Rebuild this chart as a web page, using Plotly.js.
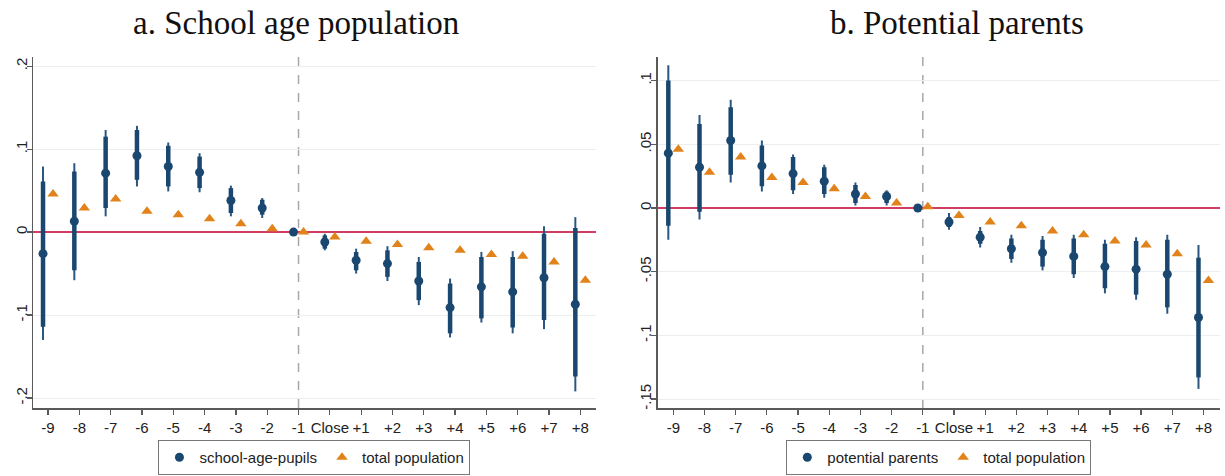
<!DOCTYPE html>
<html>
<head>
<meta charset="utf-8">
<script src="https://cdn.plot.ly/plotly-3.0.1.min.js"></script>
<style>html,body{margin:0;padding:0;background:#fff;}#chart{width:1225px;height:476px;}</style>
</head>
<body>
<div id="chart"></div>
<script>
// Event-time categories
const labels = ['-9','-8','-7','-6','-5','-4','-3','-2','-1','Close','+1','+2','+3','+4','+5','+6','+7','+8'];

// Panel a: school-age pupils (coefficient, inner CI, outer CI) and total population
const pupilsCoef = [-0.026, 0.013, 0.071, 0.092, 0.079, 0.072, 0.038, 0.029, 0, -0.012, -0.034, -0.038, -0.059, -0.091, -0.066, -0.072, -0.055, -0.087];
const pupilsLoIn = [-0.114, -0.046, 0.029, 0.063, 0.055, 0.053, 0.023, 0.021, 0, -0.020, -0.046, -0.054, -0.082, -0.122, -0.104, -0.115, -0.106, -0.174];
const pupilsHiIn = [0.061, 0.073, 0.115, 0.123, 0.104, 0.091, 0.053, 0.039, 0, -0.004, -0.024, -0.022, -0.036, -0.062, -0.030, -0.030, -0.002, 0.005];
const pupilsLoOut = [-0.130, -0.058, 0.019, 0.055, 0.049, 0.048, 0.019, 0.017, 0, -0.022, -0.050, -0.059, -0.088, -0.127, -0.109, -0.122, -0.117, -0.192];
const pupilsHiOut = [0.079, 0.083, 0.123, 0.128, 0.108, 0.095, 0.056, 0.041, 0, -0.002, -0.020, -0.017, -0.030, -0.056, -0.024, -0.023, 0.007, 0.018];
const popA = [0.046, 0.029, 0.040, 0.025, 0.021, 0.016, 0.010, 0.004, 0.000, -0.006, -0.011, -0.015, -0.019, -0.022, -0.027, -0.029, -0.036, -0.058];

// Panel b: potential parents and total population
const parentsCoef = [0.043, 0.032, 0.053, 0.033, 0.027, 0.021, 0.011, 0.009, 0, -0.011, -0.023, -0.032, -0.035, -0.038, -0.046, -0.048, -0.052, -0.086];
const parentsLoIn = [-0.014, -0.003, 0.026, 0.017, 0.014, 0.011, 0.004, 0.004, 0, -0.015, -0.028, -0.040, -0.046, -0.052, -0.063, -0.068, -0.078, -0.133];
const parentsHiIn = [0.100, 0.066, 0.079, 0.049, 0.040, 0.032, 0.018, 0.013, 0, -0.007, -0.018, -0.024, -0.025, -0.024, -0.028, -0.026, -0.025, -0.039];
const parentsLoOut = [-0.025, -0.009, 0.020, 0.013, 0.011, 0.008, 0.002, 0.002, 0, -0.017, -0.031, -0.043, -0.049, -0.055, -0.067, -0.072, -0.083, -0.142];
const parentsHiOut = [0.112, 0.073, 0.085, 0.053, 0.042, 0.034, 0.020, 0.014, 0, -0.004, -0.015, -0.021, -0.022, -0.021, -0.025, -0.023, -0.021, -0.029];
const popB = [0.046, 0.028, 0.040, 0.024, 0.020, 0.015, 0.009, 0.004, 0.001, -0.006, -0.011, -0.014, -0.018, -0.021, -0.026, -0.029, -0.036, -0.057];

// Tick labels
const yTickValsA = [-0.2, -0.1, 0, 0.1, 0.2];
const yTickTextA = ['-.2', '-.1', '0', '.1', '.2'];
const yTickValsB = [-0.15, -0.1, -0.05, 0, 0.05, 0.1];
const yTickTextB = ['-.15', '-.1', '-.05', '0', '.05', '.1'];
const panelTitles = ['a. School age population', 'b. Potential parents'];
const seriesNames = [['school-age-pupils', 'total population'], ['potential parents', 'total population']];

const NAVY = '#1a476f';
const ORANGE = '#e1821a';
const idx = labels.map((_, i) => i);
const OFF = 0.16;

function segs(lo, hi) {
  const xs = [], ys = [];
  idx.forEach(i => { xs.push(i - OFF, i - OFF, null); ys.push(lo[i], hi[i], null); });
  return {xs, ys};
}

function panel(coef, loIn, hiIn, loOut, hiOut, pop, xa, ya, leg, names) {
  const o = segs(loOut, hiOut), n = segs(loIn, hiIn);
  return [
    {x: o.xs, y: o.ys, xaxis: xa, yaxis: ya, mode: 'lines', line: {color: '#2a5680', width: 2}, showlegend: false, hoverinfo: 'skip'},
    {x: n.xs, y: n.ys, xaxis: xa, yaxis: ya, mode: 'lines', line: {color: NAVY, width: 4.5}, showlegend: false, hoverinfo: 'skip'},
    {x: idx.map(i => i - OFF), y: coef, xaxis: xa, yaxis: ya, mode: 'markers', name: names[0], legend: leg,
     marker: {symbol: 'circle', size: 9, color: NAVY}},
    {x: idx.map(i => i + OFF), y: pop, xaxis: xa, yaxis: ya, mode: 'markers', name: names[1], legend: leg,
     marker: {symbol: 'triangle-up', size: 10, color: ORANGE}}
  ];
}

const data = [].concat(
  panel(pupilsCoef, pupilsLoIn, pupilsHiIn, pupilsLoOut, pupilsHiOut, popA, 'x', 'y', 'legend', seriesNames[0]),
  panel(parentsCoef, parentsLoIn, parentsHiIn, parentsLoOut, parentsHiOut, popB, 'x2', 'y2', 'legend2', seriesNames[1])
);

const tickFont = {family: 'Liberation Sans, Arial, sans-serif', size: 15, color: '#222'};
function xAxis(domain, range, anchor) {
  return {domain, range, anchor, tickmode: 'array', tickvals: idx, ticktext: labels,
    showline: true, linecolor: '#5a5a5a', linewidth: 1.5, ticks: 'outside', ticklen: 5, tickcolor: '#5a5a5a',
    tickwidth: 1.2, showgrid: false, zeroline: false, tickfont: tickFont, ticklabelstandoff: 0, fixedrange: true,
    automargin: false};
}
function yAxis(range, vals, text, anchor) {
  return {domain: [0, 1], range, anchor, tickmode: 'array', tickvals: vals, ticktext: text, tickangle: -90,
    showline: true, linecolor: '#5a5a5a', linewidth: 1.5, ticks: 'outside', ticklen: 5, tickcolor: '#5a5a5a',
    tickwidth: 1.2, showgrid: true, gridcolor: '#eceff1', gridwidth: 1,
    zeroline: true, zerolinecolor: '#d23c64', zerolinewidth: 2,
    tickfont: tickFont, ticklabelstandoff: -6, fixedrange: true, automargin: false};
}

const legendBase = {orientation: 'h', xanchor: 'center', yanchor: 'bottom', yref: 'container', y: 0.002,
  bordercolor: '#777', borderwidth: 1, bgcolor: '#fff',
  font: {family: 'Liberation Sans, Arial, sans-serif', size: 15, color: '#222'}, itemwidth: 30, tracegroupgap: 0};

const layout = {
  width: 1225, height: 476,
  margin: {l: 33, r: 5, t: 57, b: 68},
  paper_bgcolor: '#fff', plot_bgcolor: '#fff',
  xaxis: xAxis([0, 0.4743], [-0.48, 17.5], 'y'),
  yaxis: yAxis([-0.212, 0.211], yTickValsA, yTickTextA, 'x'),
  xaxis2: xAxis([0.5263, 1], [-0.5, 17.53], 'y2'),
  yaxis2: yAxis([-0.157, 0.1185], yTickValsB, yTickTextB, 'x2'),
  legend: Object.assign({}, legendBase, {x: 0.2371}),
  legend2: Object.assign({}, legendBase, {x: 0.7631}),
  shapes: [
    {type: 'line', xref: 'x', yref: 'y domain', x0: 8, x1: 8, y0: 0, y1: 1, line: {color: '#a8a8a8', width: 1.5, dash: 'dash'}, layer: 'below'},
    {type: 'line', xref: 'x2', yref: 'y2 domain', x0: 8, x1: 8, y0: 0, y1: 1, line: {color: '#a8a8a8', width: 1.5, dash: 'dash'}, layer: 'below'}
  ],
  annotations: [
    {text: panelTitles[0], xref: 'paper', yref: 'paper', x: 0.2216, y: 1.098, xanchor: 'center', yanchor: 'middle', showarrow: false,
     font: {family: 'Liberation Serif, serif', size: 33, color: '#111'}},
    {text: panelTitles[1], xref: 'paper', yref: 'paper', x: 0.7784, y: 1.098, xanchor: 'center', yanchor: 'middle', showarrow: false,
     font: {family: 'Liberation Serif, serif', size: 33, color: '#111'}}
  ]
};

Plotly.newPlot('chart', data, layout, {displayModeBar: false, staticPlot: true});
</script>
</body>
</html>
